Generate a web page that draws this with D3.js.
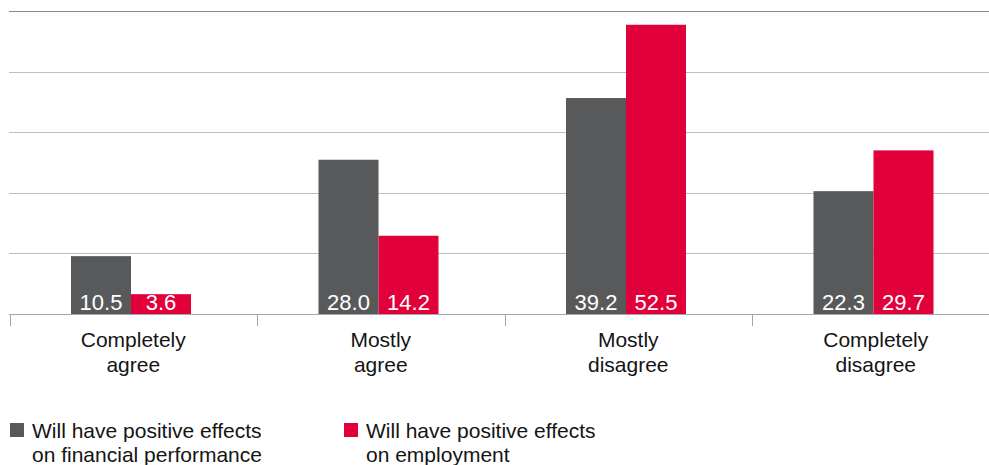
<!DOCTYPE html>
<html>
<head>
<meta charset="utf-8">
<script src="https://cdn.jsdelivr.net/npm/d3@7"></script>
<style>
  html, body { margin: 0; padding: 0; background: #fff; }
  svg { display: block; font-family: "Liberation Sans", Arial, sans-serif; }
</style>
</head>
<body>
<svg id="chart" width="989" height="465"></svg>
<script>
// Survey answers, two questions per answer category
const categories = [["Completely", "agree"], ["Mostly", "agree"], ["Mostly", "disagree"], ["Completely", "disagree"]];
const seriesNames = ["financial", "employment"];
const financialValues = [10.5, 28.0, 39.2, 22.3];
const employmentValues = [3.6, 14.2, 52.5, 29.7];
const legendLabels = [["Will have positive effects", "on financial performance"], ["Will have positive effects", "on employment"]];
const gridValues = [0, 11, 22, 33, 44, 55];

const colors = { financial: "#58595b", employment: "#e2003b" };
const textColor = "#141414";

const svg = d3.select("#chart");
const keys = categories.map(c => c.join(" "));
const rows = keys.map((k, i) => ({ key: k, lines: categories[i], financial: financialValues[i], employment: employmentValues[i] }));

const x0 = d3.scaleBand().domain(keys).range([9.5, 999.5]).padding(0);
const bw = x0.bandwidth();
const groupW = 120;
const groupOffset = 61.5;
const x1 = d3.scaleBand().domain(seriesNames).range([groupOffset, groupOffset + groupW]).padding(0);
const y = d3.scaleLinear().domain([0, 55]).range([314, 11]);

// gridlines
svg.append("g").selectAll("line").data(gridValues.slice(1)).join("line")
  .attr("x1", 9).attr("x2", 989)
  .attr("y1", d => Math.round(y(d)) + 0.5).attr("y2", d => Math.round(y(d)) + 0.5)
  .attr("stroke", (d, i, a) => i === a.length - 1 ? "#8c8c8c" : "#bdbdbd")
  .attr("stroke-width", 1);

// bars
const groups = svg.append("g").selectAll("g").data(rows).join("g")
  .attr("transform", d => `translate(${x0(d.key)},0)`);

groups.selectAll("rect").data(d => seriesNames.map(s => ({ s, v: d[s] }))).join("rect")
  .attr("x", d => x1(d.s))
  .attr("width", x1.bandwidth())
  .attr("y", d => y(d.v))
  .attr("height", d => y(0) - y(d.v))
  .attr("fill", d => colors[d.s]);

groups.selectAll("text.val").data(d => seriesNames.map(s => ({ s, v: d[s] }))).join("text")
  .attr("class", "val")
  .attr("x", d => x1(d.s) + x1.bandwidth() / 2)
  .attr("y", 310)
  .attr("text-anchor", "middle")
  .attr("fill", "#fff")
  .attr("font-size", 22)
  .text(d => d.v.toFixed(1));

// baseline axis with tick marks between categories
const axis = svg.append("g");
axis.append("line")
  .attr("x1", 9).attr("x2", 989)
  .attr("y1", y(0) + 0.5).attr("y2", y(0) + 0.5)
  .attr("stroke", "#a6a6a6");
axis.selectAll("line.tick").data(keys).join("line")
  .attr("class", "tick")
  .attr("x1", d => Math.round(x0(d)) + 0.5).attr("x2", d => Math.round(x0(d)) + 0.5)
  .attr("y1", y(0)).attr("y2", y(0) + 12)
  .attr("stroke", "#a6a6a6");

// category labels
axis.selectAll("text.cat").data(rows).join("text")
  .attr("class", "cat")
  .attr("text-anchor", "middle")
  .attr("font-size", 21)
  .attr("fill", textColor)
  .attr("x", d => x0(d.key) + bw / 2)
  .attr("y", 347)
  .selectAll("tspan").data(d => d.lines).join("tspan")
  .attr("x", function () { return d3.select(this.parentNode).attr("x"); })
  .attr("dy", (d, i) => i === 0 ? 0 : 25)
  .text(d => d);

// legend
const legendX = [10, 344];
const legend = svg.append("g").selectAll("g").data(seriesNames).join("g")
  .attr("transform", (d, i) => `translate(${legendX[i]},0)`);
legend.append("rect")
  .attr("x", 0).attr("y", 423).attr("width", 14).attr("height", 14)
  .attr("fill", d => colors[d]);
legend.append("text")
  .attr("font-size", 21)
  .attr("fill", textColor)
  .attr("y", 438)
  .selectAll("tspan").data((d, i) => legendLabels[i]).join("tspan")
  .attr("x", 22)
  .attr("dy", (d, i) => i === 0 ? 0 : 24)
  .text(d => d);
</script>
</body>
</html>
